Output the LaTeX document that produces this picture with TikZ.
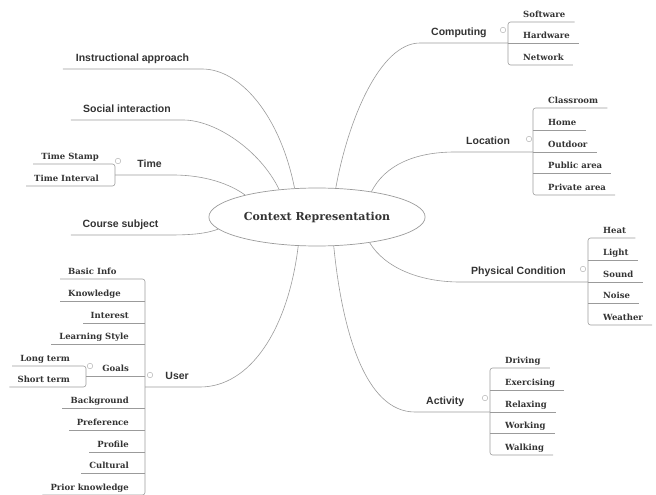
\documentclass[tikz,border=0pt]{standalone}
\usepackage{fontspec}
\setsansfont{Liberation Sans}
\newfontfamily\slabfont{DejaVu Serif}
\usetikzlibrary{shapes.geometric}
\definecolor{mapline}{RGB}{155,155,155}
\definecolor{maptext}{RGB}{51,51,51}
\definecolor{mapknob}{RGB}{180,180,180}

\tikzset{
  topic/.style={font=\sffamily\bfseries\fontsize{10.5}{12}\selectfont, text=maptext,
    inner xsep=11pt, inner ysep=4.5pt, text height=7.5pt, text depth=2.5pt},
  leaf/.style={font=\slabfont\bfseries\fontsize{8.5}{9}\selectfont, text=maptext,
    inner ysep=2.5pt, text height=6.5pt, text depth=2pt},
  rleaf/.style={leaf, anchor=south west, inner xsep=9pt},
  lleaf/.style={leaf, anchor=south east, inner xsep=8pt},
  branch/.style={draw=mapline, line width=0.6pt},
  bracket/.style={branch, rounded corners=2.5pt},
  knob/.style={circle, draw=mapknob, line width=0.5pt, minimum size=5.5pt, inner sep=0pt},
}

\begin{document}
\begin{tikzpicture}[x=1pt, y=-1pt]
	\useasboundingbox (0,0) rectangle (656,495);
	
	% Central topic
	\node[ellipse, draw=mapline, fill=white, line width=0.7pt, minimum width=204pt, minimum height=58pt,
	  font=\slabfont\bfseries\fontsize{11}{12}\selectfont, text=maptext] (ctx) at (317,217) {Context Representation};
	
	% Left topics without subtopics
	\node[topic, anchor=south, minimum width=139pt] (instr) at (132.5,69) {Instructional approach};
	\node[topic, anchor=south, minimum width=112pt] (social) at (127,120) {Social interaction};
	\node[topic, anchor=south, minimum width=99pt] (course) at (120.5,235) {Course subject};
	\draw[branch] (instr.south west) -- (instr.south east) .. controls (240,69) and (280,115) .. (ctx.128);
	\draw[branch] (social.south west) -- (social.south east) .. controls (215,120) and (260,150) .. (ctx.144);
	\draw[branch] (course.south west) -- (course.south east) .. controls (200,235) and (210,232) .. (ctx.187);
	
	% Time
	\coordinate (timeb) at (115,175);
	\node[topic, anchor=south east] (time) at (173,175) {Time};
	\node[knob] (timek) at (118,161) {};
	\foreach \t/\y [count=\i] in {Time Stamp/164, Time Interval/186}
	  \node[lleaf] (time\i) at (107,\y) {\t};
	\draw[bracket] (time1.south west) -- (timeb |- time1.south) -- (timeb |- time2.south) -- (time2.south west);
	\draw[branch] (timeb) -- (time.south east) .. controls (205,175) and (230,184) .. (ctx.163);
	
	% User
	\coordinate (userb) at (145,387);
	\node[topic, anchor=south east] (user) at (200,387) {User};
	\node[knob] (userk) at (150,375) {};
	\node[leaf, anchor=south west, inner xsep=8pt] (user1) at (60,279) {Basic Info};
	\node[leaf, anchor=south west, inner xsep=8pt] (user2) at (60,301) {Knowledge};
	\foreach \t/\y [count=\i from 3] in {Interest/323, Learning Style/344, Goals/376, Background/408,
	    Preference/430, Profile/452, Cultural/473, Prior knowledge/495}
	  \node[lleaf] (user\i) at (137,\y) {\t};
	\draw[bracket] (user1.south west) -- (userb |- user1.south) -- (userb |- user10.south) -- (user10.south west);
	\foreach \i in {2,...,9}
	  \draw[branch] (userb |- user\i.south) -- (user\i.south west);
	\draw[branch] (userb) -- (user.south east) .. controls (250,387) and (288,330) .. (ctx.237);
	
	% Goals
	\coordinate (goalb) at (86,376);
	\node[knob] (goalk) at (90,366) {};
	\foreach \t/\y [count=\i] in {Long term/366, Short term/387}
	  \node[lleaf] (goal\i) at (78,\y) {\t};
	\draw[bracket] (goal1.south west) -- (goalb |- goal1.south) -- (goalb |- goal2.south) -- (goal2.south west);
	\draw[branch] (goalb) -- (user5.south west);
	
	% Computing
	\coordinate (compb) at (508,43);
	\node[topic, anchor=south west] (comp) at (420,43) {Computing};
	\node[knob] (compk) at (503,30) {};
	\foreach \t/\y [count=\i] in {Software/22, Hardware/43, Network/65}
	  \node[rleaf] (comp\i) at (514,\y) {\t};
	\draw[bracket] (comp1.south east) -- (compb |- comp1.south) -- (compb |- comp3.south) -- (comp3.south east);
	\draw[branch] (compb) -- (comp2.south east);
	\draw[branch] (compb) -- (comp.south west) .. controls (380,43) and (348,120) .. (ctx.57);
	
	% Location
	\coordinate (locb) at (533,152);
	\node[topic, anchor=south west] (loc) at (455,152) {Location};
	\node[knob] (lock) at (529,139) {};
	\foreach \t/\y [count=\i] in {Classroom/108, Home/130, Outdoor/152, Public area/173, Private area/195}
	  \node[rleaf] (loc\i) at (539,\y) {\t};
	\draw[bracket] (loc1.south east) -- (locb |- loc1.south) -- (locb |- loc5.south) -- (loc5.south east);
	\foreach \i in {2,3,4}
	  \draw[branch] (locb |- loc\i.south) -- (loc\i.south east);
	\draw[branch] (locb) -- (loc.south west) .. controls (415,152) and (385,165) .. (ctx.25);
	
	% Physical Condition
	\coordinate (physb) at (588,282);
	\node[topic, anchor=south west] (phys) at (460,282) {Physical Condition};
	\node[knob] (physk) at (583,269) {};
	\foreach \t/\y [count=\i] in {Heat/238, Light/260, Sound/282, Noise/303, Weather/325}
	  \node[rleaf] (phys\i) at (594,\y) {\t};
	\draw[bracket] (phys1.south east) -- (physb |- phys1.south) -- (physb |- phys5.south) -- (phys5.south east);
	\foreach \i in {2,3,4}
	  \draw[branch] (physb |- phys\i.south) -- (phys\i.south east);
	\draw[branch] (physb) -- (phys.south west) .. controls (420,282) and (385,268) .. (ctx.-26);
	
	% Activity
	\coordinate (actb) at (490,412);
	\node[topic, anchor=south west] (act) at (415,412) {Activity};
	\node[knob] (actk) at (485,398) {};
	\foreach \t/\y [count=\i] in {Driving/368, Exercising/390, Relaxing/412, Working/433, Walking/455}
	  \node[rleaf] (act\i) at (496,\y) {\t};
	\draw[bracket] (act1.south east) -- (actb |- act1.south) -- (actb |- act5.south) -- (act5.south east);
	\foreach \i in {2,3,4}
	  \draw[branch] (actb |- act\i.south) -- (act\i.south east);
	\draw[branch] (actb) -- (act.south west) .. controls (365,412) and (342,330) .. (ctx.-60);
\end{tikzpicture}
\end{document}
